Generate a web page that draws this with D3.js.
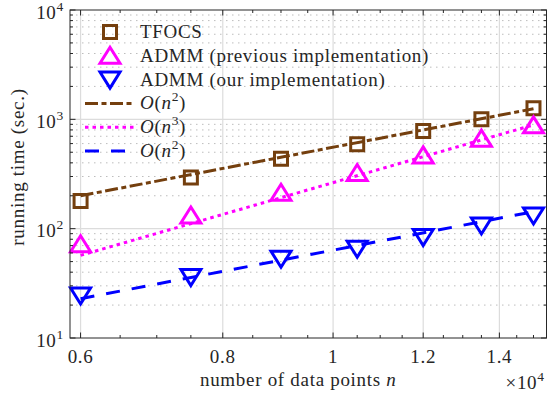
<!DOCTYPE html>
<html>
<head>
<meta charset="utf-8">
<script src="https://cdn.jsdelivr.net/npm/d3@7"></script>
<style>
    body { margin: 0; background: #fff; }
    svg { display: block; }
    text { font-family: "Liberation Serif", serif; fill: #262626; letter-spacing: 0.7px; }
</style>
</head>
<body>
<svg id="chart" width="548" height="396"></svg>
<script>
// number of data points n
var sizes = [6000, 7500, 9000, 10500, 12000, 13500, 15000];
// running time (sec.)
var tfocs = [179, 293, 437, 591, 782, 1000, 1260];
var admmPrev = [72, 132, 213, 323, 468, 666, 881];
var admmOurs = [24.5, 36.1, 53.1, 65.6, 83.8, 107, 132];
// reference slopes, read at both ends
var fitSizes = [6000, 15000];
var fitTfocs = [200, 1250];
var fitPrev = [57, 889];
var fitOurs = [22.9, 143];

var xTicks = [6000, 8000, 10000, 12000, 14000];
var xTickLabels = ['0.6', '0.8', '1', '1.2', '1.4'];
var yTicks = [10, 100, 1000, 10000];
var yTickExp = ['1', '2', '3', '4'];

var legendLabels = ['TFOCS', 'ADMM (previous implementation)', 'ADMM (our implementation)'];

function Chart(host) {
    this.host = host;
    this.margin = {left: 70, right: 1.5, top: 10, bottom: 58};
    this.width = 548 - this.margin.left - this.margin.right;
    this.height = 396 - this.margin.top - this.margin.bottom;
    this.colors = {brown: '#743f0e', magenta: '#ff00ff', blue: '#0000ff', axis: '#262626'};
    this.fontSize = 19;
    this.elements = {};
    this.init();
}

Chart.prototype.init = function() {
    this.x = d3.scaleLog().domain([5873, 15400]).range([0, this.width]);
    this.y = d3.scaleLog().domain([10, 10000]).range([this.height, 0]);
    this.elements.root = d3.select(this.host).append('g')
        .attr('transform', 'translate(' + this.margin.left + ',' + this.margin.top + ')');
    this.drawGrid();
    this.drawSeries();
    this.drawAxes();
    this.drawLegend();
};

Chart.prototype.minorY = function() {
    var out = [];
    for (var p = 10; p < 10000; p *= 10) {
        for (var k = 2; k < 10; k++) out.push(k * p);
    }
    return out;
};

Chart.prototype.minorX = function() {
    var out = [];
    for (var v = 6000; v <= 15000; v += 500) {
        if (xTicks.indexOf(v) < 0) out.push(v);
    }
    return out;
};

Chart.prototype.drawGrid = function() {
    var self = this, g = this.elements.root.append('g').attr('class', 'grid');
    g.selectAll('.ymin').data(this.minorY()).enter().append('line')
        .attr('x1', 0).attr('x2', this.width)
        .attr('y1', function(d) { return self.y(d); })
        .attr('y2', function(d) { return self.y(d); })
        .attr('stroke', '#bdbdbd').attr('stroke-width', 1).attr('stroke-dasharray', '1.5,4.5');
    g.selectAll('.ymaj').data([100, 1000]).enter().append('line')
        .attr('x1', 0).attr('x2', this.width)
        .attr('y1', function(d) { return self.y(d); })
        .attr('y2', function(d) { return self.y(d); })
        .attr('stroke', '#dcdcdc').attr('stroke-width', 1.2);
    g.selectAll('.xmaj').data(xTicks).enter().append('line')
        .attr('y1', 0).attr('y2', this.height)
        .attr('x1', function(d) { return self.x(d); })
        .attr('x2', function(d) { return self.x(d); })
        .attr('stroke', '#dcdcdc').attr('stroke-width', 1.2);
};

Chart.prototype.drawSeries = function() {
    var self = this, root = this.elements.root;
    var line = d3.line()
        .x(function(d) { return self.x(d[0]); })
        .y(function(d) { return self.y(d[1]); });
    var fits = [
        {vals: fitTfocs, color: this.colors.brown, dash: '13,3.5,5,3.5'},
        {vals: fitPrev, color: this.colors.magenta, dash: '3.5,4'},
        {vals: fitOurs, color: this.colors.blue, dash: '14,12'}
    ];
    fits.forEach(function(f) {
        root.append('path')
            .datum(d3.zip(fitSizes, f.vals))
            .attr('d', line)
            .attr('fill', 'none')
            .attr('stroke', f.color)
            .attr('stroke-width', 3)
            .attr('stroke-dasharray', f.dash);
    });
    var series = [
        {vals: tfocs, color: this.colors.brown, shape: 'square'},
        {vals: admmPrev, color: this.colors.magenta, shape: 'up'},
        {vals: admmOurs, color: this.colors.blue, shape: 'down'}
    ];
    series.forEach(function(s) {
        root.append('g').selectAll('path').data(d3.zip(sizes, s.vals)).enter().append('path')
            .attr('d', self.marker(s.shape))
            .attr('transform', function(d) { return 'translate(' + self.x(d[0]) + ',' + self.y(d[1]) + ')'; })
            .attr('fill', 'none')
            .attr('stroke', s.color)
            .attr('stroke-width', 3)
            .attr('stroke-linejoin', 'miter');
    });
};

Chart.prototype.marker = function(shape) {
    if (shape === 'square') return 'M-6.5,-6.5H6.5V6.5H-6.5Z';
    if (shape === 'up') return 'M0,-8.5L10,7.5H-10Z';
    return 'M0,8.5L10,-7.5H-10Z';
};

Chart.prototype.drawAxes = function() {
    var self = this, root = this.elements.root, w = this.width, h = this.height;
    var ax = root.append('g').attr('class', 'axes').attr('stroke', this.colors.axis).attr('stroke-width', 1);
    ax.append('rect').attr('width', w).attr('height', h).attr('fill', 'none');
    // ticks point inward on all four sides
    [[xTicks, 5.5], [this.minorX(), 3]].forEach(function(t) {
        t[0].forEach(function(v) {
            var px = self.x(v);
            ax.append('line').attr('x1', px).attr('x2', px).attr('y1', h).attr('y2', h - t[1]);
            ax.append('line').attr('x1', px).attr('x2', px).attr('y1', 0).attr('y2', t[1]);
        });
    });
    [[yTicks, 5.5], [this.minorY(), 3]].forEach(function(t) {
        t[0].forEach(function(v) {
            var py = self.y(v);
            ax.append('line').attr('y1', py).attr('y2', py).attr('x1', 0).attr('x2', t[1]);
            ax.append('line').attr('y1', py).attr('y2', py).attr('x1', w).attr('x2', w - t[1]);
        });
    });
    var lab = root.append('g').attr('font-size', this.fontSize);
    lab.selectAll('.xl').data(xTicks).enter().append('text')
        .attr('x', function(d) { return self.x(d); })
        .attr('y', h + 25)
        .attr('text-anchor', 'middle')
        .text(function(d, i) { return xTickLabels[i]; });
    var yl = lab.selectAll('.yl').data(yTicks).enter().append('text')
        .attr('x', -6)
        .attr('y', function(d) { return self.y(d) + 8.5; })
        .attr('text-anchor', 'end');
    yl.append('tspan').text('10');
    yl.append('tspan').attr('dy', -8).attr('font-size', 13.5).text(function(d, i) { return yTickExp[i]; });

    var xt = lab.append('text').attr('x', w / 2 - 10).attr('y', h + 48).attr('text-anchor', 'middle');
    xt.append('tspan').text('number of data points ');
    xt.append('tspan').attr('font-style', 'italic').text('n');
    var mult = lab.append('text').attr('x', w - 41).attr('y', h + 51);
    mult.append('tspan').text('\u00d710');
    mult.append('tspan').attr('dy', -8).attr('font-size', 13.5).text('4');
    lab.append('text')
        .attr('transform', 'translate(' + (-46) + ',' + (h / 2 - 7) + ') rotate(-90)')
        .attr('text-anchor', 'middle')
        .text('running time (sec.)');
};

Chart.prototype.drawLegend = function() {
    var self = this, root = this.elements.root, fs = this.fontSize;
    var lg = root.append('g').attr('class', 'legend');
    var rowY = function(i) { return 22 + i * 23.8; };
    var markers = [['square', this.colors.brown], ['up', this.colors.magenta], ['down', this.colors.blue]];
    markers.forEach(function(m, i) {
        lg.append('path').attr('d', self.marker(m[0]))
            .attr('transform', 'translate(40,' + rowY(i) + ')')
            .attr('fill', 'none').attr('stroke', m[1]).attr('stroke-width', 3);
        lg.append('text').attr('x', 70).attr('y', rowY(i) + 6).attr('font-size', fs).text(legendLabels[i]);
    });
    var lines = [
        [this.colors.brown, '13,3.5,5,3.5', '2'],
        [this.colors.magenta, '3.5,4', '3'],
        [this.colors.blue, '14,12', '2']
    ];
    lines.forEach(function(l, j) {
        var i = j + 3;
        lg.append('line').attr('x1', 15).attr('x2', 65).attr('y1', rowY(i)).attr('y2', rowY(i))
            .attr('stroke', l[0]).attr('stroke-width', 3).attr('stroke-dasharray', l[1]);
        var t = lg.append('text').attr('x', 70).attr('y', rowY(i) + 6).attr('font-size', fs);
        t.append('tspan').attr('font-style', 'italic').text('O');
        t.append('tspan').text('(');
        t.append('tspan').attr('font-style', 'italic').text('n');
        t.append('tspan').attr('dy', -8).attr('font-size', 13.5).text(l[2]);
        t.append('tspan').attr('dy', 8).text(')');
    });
};

new Chart(document.getElementById('chart'));
</script>
</body>
</html>
